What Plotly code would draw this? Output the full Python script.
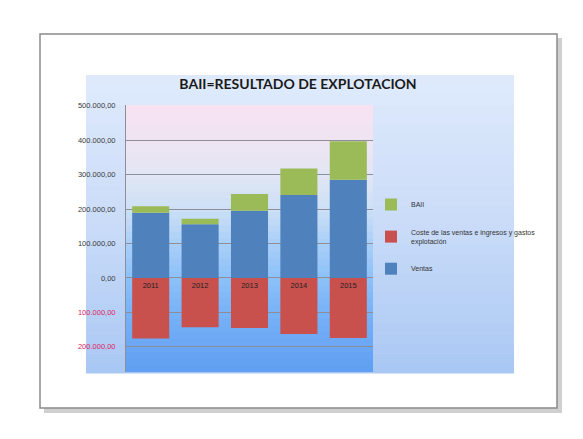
import plotly.graph_objects as go

# ---------------- data ----------------
years = ["2011", "2012", "2013", "2014", "2015"]
ventas = [189000, 156000, 195000, 241000, 285000]
coste = [-176000, -143000, -145000, -163000, -174000]
baii = [19000, 16000, 49000, 77000, 112000]

tick_vals = [-200000, -100000, 0, 100000, 200000, 300000, 400000, 500000]
tick_text = ["200.000,00", "100.000,00", "0,00", "100.000,00",
             "200.000,00", "300.000,00", "400.000,00", "500.000,00"]

name_ventas = "Ventas"
name_coste = "Coste de las ventas e ingresos y gastos<br>explotación"
name_baii = "BAII"

# ---------------- geometry (pixels) ----------------
W, H = 583, 439
PL, PR, PT, PB = 126, 373, 105, 372   # plot area
pw, ph = PR - PL, PB - PT


def px(x):
    return (x - PL) / pw


def py(y):
    return (PB - y) / ph


def hexrgb(h):
    h = h.lstrip("#")
    return tuple(int(h[i:i + 2], 16) for i in (0, 2, 4))


def lerp_stops(stops, f):
    for (f0, c0), (f1, c1) in zip(stops[:-1], stops[1:]):
        if f0 <= f <= f1:
            t = (f - f0) / (f1 - f0) if f1 > f0 else 0
            a, b = hexrgb(c0), hexrgb(c1)
            return "rgb(%d,%d,%d)" % tuple(round(a[i] + (b[i] - a[i]) * t) for i in range(3))
    return stops[-1][1]


shapes = []
# card shadow + card
shapes.append(dict(type="rect", xref="paper", yref="paper",
                   x0=px(44), x1=px(562), y0=py(38), y1=py(413),
                   fillcolor="rgba(120,120,120,0.35)", line=dict(width=0), layer="below"))
shapes.append(dict(type="rect", xref="paper", yref="paper",
                   x0=px(40), x1=px(557), y0=py(34), y1=py(408),
                   fillcolor="white", line=dict(color="#8a8a8a", width=1.5), layer="below"))

# chart-area panel gradient
panel_stops = [(0.0, "#dfeafc"), (0.5, "#cadcf8"), (1.0, "#a9c7f4")]
N = 30
top, bot = 75, 373
for i in range(N):
    y0 = top + (bot - top) * i / N
    y1 = top + (bot - top) * (i + 1) / N + 0.6
    shapes.append(dict(type="rect", xref="paper", yref="paper",
                       x0=px(86), x1=px(514), y0=py(y1), y1=py(y0),
                       fillcolor=lerp_stops(panel_stops, (i + 0.5) / N),
                       line=dict(width=0), layer="below"))

# plot-area gradient (domain fraction from bottom)
plot_stops = [(0.0, "#5f9ef1"), (0.224, "#78b2f7"), (0.353, "#8cc1f8"),
              (0.483, "#aacff8"), (0.612, "#cde0f6"), (0.741, "#e2e6f4"),
              (0.871, "#efe4f2"), (1.0, "#f8e2f2")]
M = 40
for i in range(M):
    f0 = i / M
    f1 = (i + 1) / M + 0.004
    shapes.append(dict(type="rect", xref="x domain", yref="y domain",
                       x0=0, x1=1, y0=f0, y1=min(f1, 1),
                       fillcolor=lerp_stops(plot_stops, (i + 0.5) / M),
                       line=dict(width=0), layer="below"))

blue = "#4f81bd"
red = "#c8504d"
green = "#9bbb59"

fig = go.Figure()
fig.add_trace(go.Bar(x=years, y=ventas, name=name_ventas, marker_color=blue,
                     marker_line_width=0, legendgroup="v", legendrank=3))
fig.add_trace(go.Bar(x=years, y=coste, name=name_coste, marker_color=red,
                     marker_line_width=0, legendgroup="c", legendrank=2,
                     text=years, texttemplate="%{x}", textposition="inside",
                     insidetextanchor="start", textangle=0,
                     textfont=dict(size=7.5, color="#222222", family="Liberation Sans")))
fig.add_trace(go.Bar(x=years, y=baii, name=name_baii, marker_color=green,
                     marker_line_width=0, legendgroup="b", legendrank=1))

neg_color = "#e0245a"
ticks = []
for v, t in zip(tick_vals, tick_text):
    if v < 0:
        ticks.append("<span style='color:%s'>%s</span>" % (neg_color, t))
    else:
        ticks.append(t)

fig.update_layout(
    width=W, height=H,
    margin=dict(l=PL, r=W - PR, t=PT, b=H - PB, pad=0),
    barmode="relative", bargap=0.25,
    paper_bgcolor="white", plot_bgcolor="rgba(0,0,0,0)",
    shapes=shapes,
    title=dict(text="<b>BAII=RESULTADO DE EXPLOTACION</b>",
               x=298 / W, xanchor="center", xref="container",
               y=1 - 84 / H, yanchor="middle", yref="container",
               font=dict(family="Lato, Liberation Sans, sans-serif",
                         size=14, color="#1a1a1a")),
    legend=dict(x=px(371), xanchor="left", y=py(190), yanchor="top",
                traceorder="grouped", tracegroupgap=12,
                bgcolor="rgba(0,0,0,0)",
                font=dict(family="Liberation Sans", size=7, color="#333333")),
    font=dict(family="Liberation Sans", color="#333333"),
)
fig.update_xaxes(showticklabels=False, showgrid=False, showline=False, zeroline=False)
fig.update_yaxes(range=[-273000, 502000], tickmode="array", tickvals=tick_vals,
                 ticktext=ticks, tickfont=dict(size=7.5, color="#3a3a3a"),
                 showgrid=True, gridcolor="#8e8e9a", gridwidth=1,
                 zeroline=False, showline=True, linecolor="#8e8e9a", linewidth=1,
                 ticks="", ticklabelstandoff=8)

fig.write_html("out.html")
